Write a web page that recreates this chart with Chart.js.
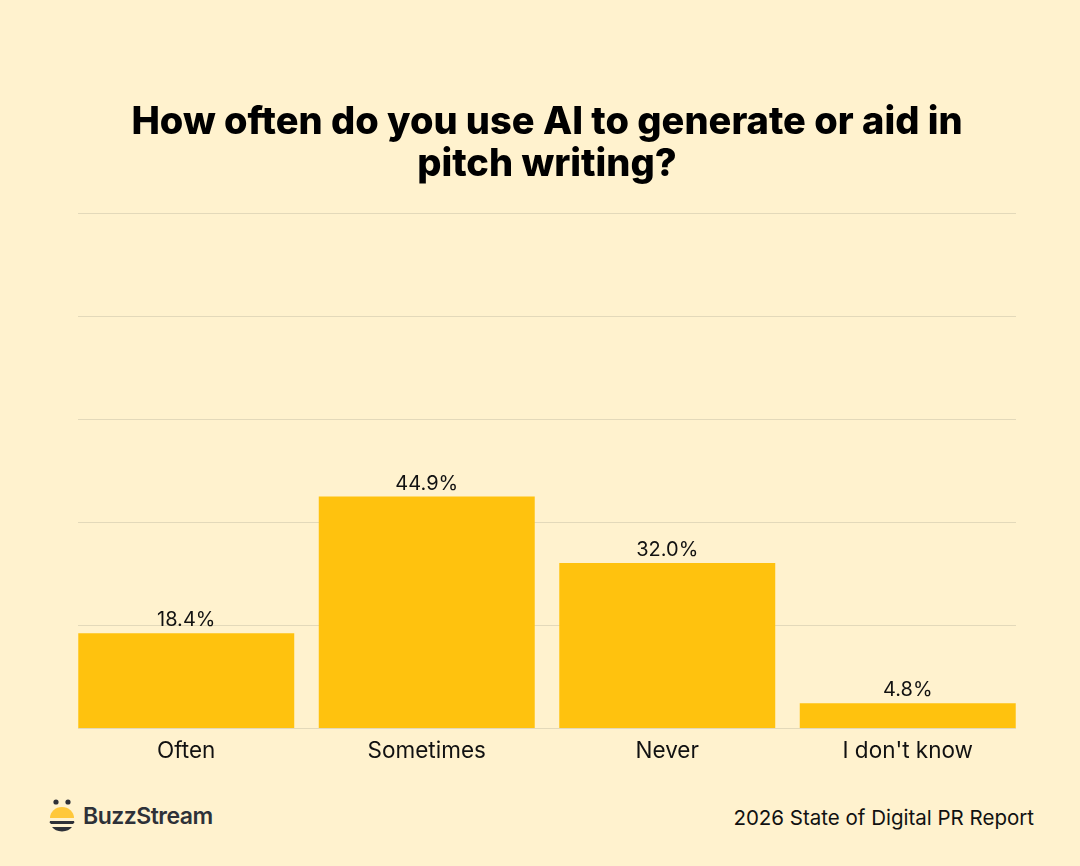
<!DOCTYPE html>
<html>
<head>
<meta charset="utf-8">
<script src="https://cdn.jsdelivr.net/npm/chart.js@4.4.1/dist/chart.umd.min.js"></script>
<style>
  html, body { margin: 0; padding: 0; background: #FFF2CE; }
  #wrap { position: relative; width: 1080px; height: 866px; background: #FFF2CE; }
  #chartBox { position: absolute; left: 0; top: 0; width: 1080px; height: 767px; }
  .logo { position: absolute; left: 48px; top: 798px; display: flex; align-items: center; }
  .logo span { font-family: "Inter", sans-serif; font-weight: 600; font-size: 23px; color: #2E3138; margin-left: 7px; letter-spacing: -0.5px; }
  .source { position: absolute; right: 46px; top: 805px; font-family: "Inter", sans-serif; font-size: 20.5px; color: #111; }
</style>
</head>
<body>
<div id="wrap">
  <div id="chartBox"><canvas id="myChart"></canvas></div>
  <div class="logo">
    <svg width="28" height="36" viewBox="0 0 28 36">
      <circle cx="8" cy="4" r="2.6" fill="#2E3138"/>
      <circle cx="20" cy="4" r="2.6" fill="#2E3138"/>
      <path d="M2 20 A12 11 0 0 1 26 20 Z" fill="#FFC83A"/>
      <path d="M2 23 H26 A12 4 0 0 1 25 26 H3 A12 4 0 0 1 2 23 Z" fill="#2E3138"/>
      <path d="M4 29 H24 Q21 33 14 33.5 Q7 33 4 29 Z" fill="#2E3138"/>
    </svg>
    <span>BuzzStream</span>
  </div>
  <div class="source">2026 State of Digital PR Report</div>
</div>
<script>
var categories = ["Often", "Sometimes", "Never", "I don't know"];
var shares = [18.4, 44.9, 32.0, 4.8];
var axisMax = 100;
var axisStep = 20;

// horizontal grid lines, a bit shorter than the chart area (bars reach past them)
var gridLines = {
    id: 'gridLines',
    beforeDatasetsDraw: function (chart) {
        var ctx = chart.ctx;
        var area = chart.chartArea;
        var y = chart.scales.y;
        ctx.save();
        ctx.strokeStyle = '#E3D9BA';
        ctx.lineWidth = 1;
        y.ticks.forEach(function (t) {
            var py = Math.round(y.getPixelForValue(t.value)) + 0.5;
            ctx.beginPath();
            ctx.moveTo(area.left + 12, py);
            ctx.lineTo(area.right - 12, py);
            ctx.stroke();
        });
        ctx.restore();
    }
};

// draws the percentage above each bar
var valueLabels = {
    id: 'valueLabels',
    afterDatasetsDraw: function (chart) {
        var ctx = chart.ctx;
        var meta = chart.getDatasetMeta(0);
        ctx.save();
        ctx.font = '20px Inter, sans-serif';
        ctx.fillStyle = '#111111';
        ctx.textAlign = 'center';
        ctx.textBaseline = 'alphabetic';
        meta.data.forEach(function (bar, i) {
            ctx.fillText(shares[i].toFixed(1) + '%', bar.x, bar.y - 7);
        });
        ctx.restore();
    }
};

var ctx = document.getElementById('myChart').getContext('2d');
var chart = new Chart(ctx, {
    type: 'bar',
    data: {
        labels: categories,
        datasets: [{
            data: shares,
            backgroundColor: '#FFC20E',
            borderWidth: 0,
            categoryPercentage: 1.0,
            barPercentage: 0.898
        }]
    },
    options: {
        responsive: true,
        maintainAspectRatio: false,
        animation: false,
        layout: { padding: { top: 102, left: 66, right: 52, bottom: 0 } },
        plugins: {
            legend: { display: false },
            tooltip: { enabled: false },
            title: {
                display: true,
                text: ["How often do you use AI to generate or aid in", "pitch writing?"],
                color: '#000000',
                font: { family: 'Inter, sans-serif', size: 38, weight: '800', lineHeight: 1.1 },
                padding: { top: 0, bottom: 27 }
            }
        },
        scales: {
            x: {
                grid: { display: false },
                border: { display: false },
                ticks: { color: '#111111', font: { family: 'Inter, sans-serif', size: 22.5 }, padding: 2 }
            },
            y: {
                min: 0,
                max: axisMax,
                ticks: { display: false, stepSize: axisStep },
                grid: { display: false, drawTicks: false },
                border: { display: false }
            }
        }
    },
    plugins: [gridLines, valueLabels]
});
</script>
</body>
</html>
